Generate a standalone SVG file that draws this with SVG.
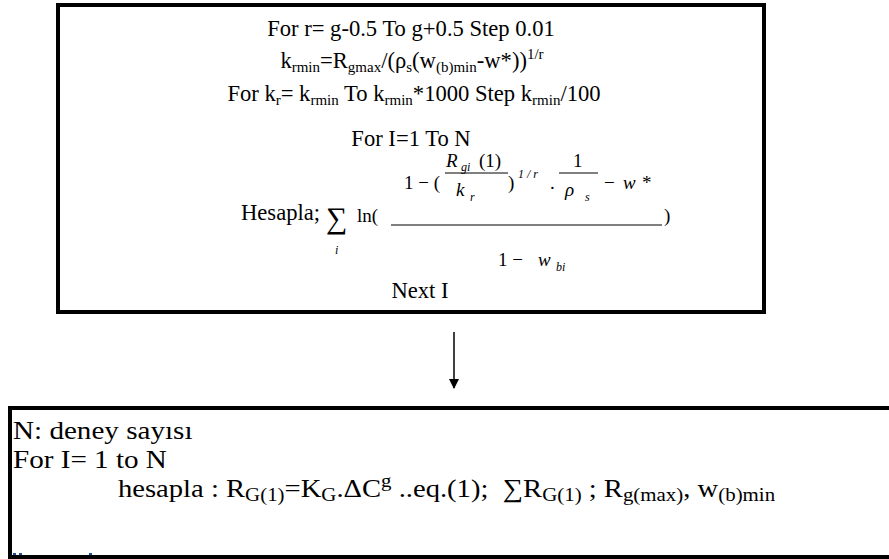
<svg xmlns="http://www.w3.org/2000/svg" width="889" height="559" viewBox="0 0 889 559">
<style>
.t{font-family:"Liberation Serif","Times New Roman",serif;fill:#000}
.big{font-size:22.6px}
.m{font-size:19px}
.mi{font-size:19px;font-style:italic}
.s{font-size:12px;font-style:italic}
.box{fill:#fff;stroke:#000;stroke-width:4}
.bt{font-size:26px}
</style>
<defs>
<marker id="ah" viewBox="0 0 10 10" refX="9" refY="5" markerWidth="10" markerHeight="10" markerUnits="userSpaceOnUse" orient="auto">
<path d="M0,0 L10,5 L0,10 z" fill="#000"/>
</marker>
</defs>
<rect width="889" height="559" fill="#fff"/>

<g id="loop-box">
<rect class="box" x="58" y="5" width="706" height="307"/>
<text class="t big" x="411" y="36" text-anchor="middle">For r= g-0.5 To g+0.5 Step 0.01</text>
<text class="t big" x="412" y="68" text-anchor="middle">k<tspan font-size="15" dy="4">rmin</tspan><tspan dy="-4">=R</tspan><tspan font-size="15" dy="4">gmax</tspan><tspan dy="-4">/(ρ</tspan><tspan font-size="15" dy="4">s</tspan><tspan dy="-4">(w</tspan><tspan font-size="15" dy="4">(b)min</tspan><tspan dy="-4">-w*))</tspan><tspan font-size="15" dy="-9">1/r</tspan></text>
<text class="t big" x="414" y="101" text-anchor="middle">For k<tspan font-size="15" dy="4">r</tspan><tspan dy="-4">= k</tspan><tspan font-size="15" dy="4">rmin</tspan><tspan dy="-4"> To k</tspan><tspan font-size="15" dy="4">rmin</tspan><tspan dy="-4">*1000 Step k</tspan><tspan font-size="15" dy="4">rmin</tspan><tspan dy="-4">/100</tspan></text>
<text class="t big" x="411" y="146" text-anchor="middle">For I=1 To N</text>
<text class="t big" x="241" y="220">Hesapla;</text>
<text class="t" x="326" y="228" font-size="30">∑</text>
<text class="t s" x="335" y="254">i</text>
<text class="t m" x="357" y="222">ln(</text>
<text class="t m" x="404" y="189">1 − (</text>
<text class="t mi" x="446" y="167">R</text>
<text class="t s" x="461" y="171">gi</text>
<text class="t m" x="479" y="167">(1)</text>
<line x1="445" y1="173" x2="508" y2="173" stroke="#000" stroke-width="1"/>
<text class="t mi" x="456" y="196">k</text>
<text class="t s" x="470" y="201">r</text>
<text class="t m" x="508" y="189">)</text>
<text class="t s" x="518" y="178">1 / r</text>
<text class="t m" x="550" y="189">.</text>
<text class="t m" x="573" y="167">1</text>
<line x1="559" y1="173" x2="598" y2="173" stroke="#000" stroke-width="1"/>
<text class="t mi" x="565" y="196" font-size="21">ρ</text>
<text class="t s" x="585" y="201">s</text>
<text class="t m" x="604" y="189">−</text>
<text class="t mi" x="623" y="189">w</text>
<text class="t m" x="642" y="189">*</text>
<line x1="391" y1="225" x2="662" y2="225" stroke="#000" stroke-width="1.2"/>
<text class="t m" x="664" y="222">)</text>
<text class="t m" x="498" y="266">1 −</text>
<text class="t mi" x="538" y="266">w</text>
<text class="t s" x="556" y="271" font-size="13">bi</text>
<text class="t big" x="420" y="298" text-anchor="middle">Next I</text>
</g>

<g id="connectors">
<line x1="454" y1="332" x2="454" y2="388" stroke="#000" stroke-width="1.5" marker-end="url(#ah)"/>
</g>

<g id="input-box">
<rect class="box" x="10" y="408" width="885" height="149"/>
<g transform="translate(13,0) scale(1.12,1)">
<text class="t bt" x="0" y="439">N: deney sayısı</text>
<text class="t bt" x="0" y="468">For I= 1 to N</text>
</g>
<g transform="translate(118,0) scale(1.1,1)">
<text class="t bt" x="0" y="497" xml:space="preserve">hesapla : R<tspan font-size="19" dy="4">G(1)</tspan><tspan dy="-4">=K</tspan><tspan font-size="19" dy="4">G</tspan><tspan dy="-4">.ΔC</tspan><tspan font-size="19" dy="-10">g</tspan><tspan dy="10"> ..eq.(1);  ∑R</tspan><tspan font-size="19" dy="4">G(1)</tspan><tspan dy="-4"> ; R</tspan><tspan font-size="19" dy="4">g(max)</tspan><tspan dy="-4">, w</tspan><tspan font-size="19" dy="4">(b)min</tspan></text>
</g>
<rect x="13" y="553" width="3" height="2" fill="#1f4e9c"/>
<rect x="19" y="553" width="3" height="2" fill="#1f4e9c"/>
<rect x="89" y="553" width="3" height="2" fill="#1f4e9c"/>
</g>
</svg>
